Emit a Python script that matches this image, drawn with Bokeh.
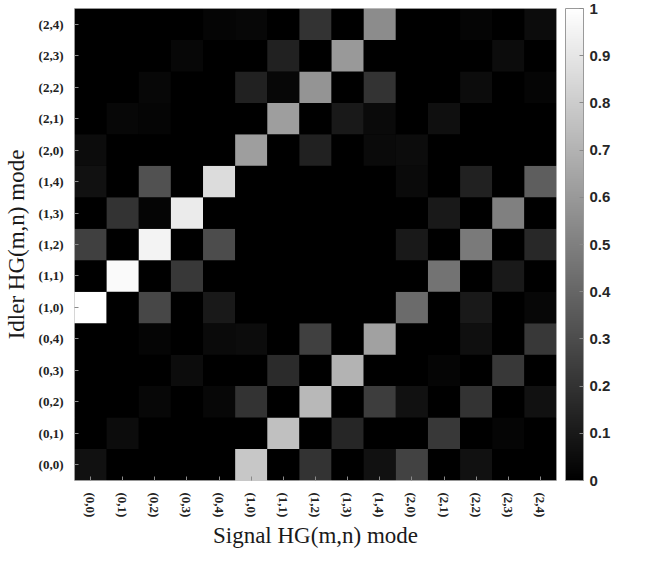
import math
from bokeh.plotting import figure
from bokeh.models import (FactorRange, LinearColorMapper, ColorBar, FixedTicker,
                          CustomJSTickFormatter, ColumnDataSource)
from bokeh.embed import file_html
from bokeh.resources import INLINE

# ---------------- data ----------------
modes = ["(0,0)", "(0,1)", "(0,2)", "(0,3)", "(0,4)",
         "(1,0)", "(1,1)", "(1,2)", "(1,3)", "(1,4)",
         "(2,0)", "(2,1)", "(2,2)", "(2,3)", "(2,4)"]

# one list per idler mode; entries follow the signal modes in the order above
idler_0_0 = [0.07, 0, 0, 0, 0, 0.78, 0, 0.20, 0, 0.07, 0.26, 0, 0.07, 0, 0]
idler_0_1 = [0, 0.05, 0, 0, 0, 0, 0.75, 0, 0.15, 0, 0, 0.22, 0, 0.02, 0]
idler_0_2 = [0, 0, 0.03, 0, 0.03, 0.20, 0, 0.72, 0, 0.24, 0.07, 0, 0.20, 0, 0.07]
idler_0_3 = [0, 0, 0, 0.05, 0, 0, 0.17, 0, 0.70, 0, 0, 0.02, 0, 0.22, 0]
idler_0_4 = [0, 0, 0.02, 0, 0.04, 0.05, 0, 0.25, 0, 0.63, 0, 0, 0.06, 0, 0.22]
idler_1_0 = [1.00, 0, 0.28, 0, 0.10, 0, 0, 0, 0, 0, 0.42, 0, 0.10, 0, 0.03]
idler_1_1 = [0, 0.98, 0, 0.22, 0, 0, 0, 0, 0, 0, 0, 0.45, 0, 0.10, 0]
idler_1_2 = [0.25, 0, 0.95, 0, 0.30, 0, 0, 0, 0, 0, 0.10, 0, 0.48, 0, 0.16]
idler_1_3 = [0, 0.20, 0.02, 0.92, 0, 0, 0, 0, 0, 0, 0, 0.10, 0, 0.50, 0]
idler_1_4 = [0.07, 0, 0.32, 0, 0.86, 0, 0, 0, 0, 0, 0.04, 0, 0.13, 0, 0.37]
idler_2_0 = [0.05, 0, 0, 0, 0, 0.62, 0, 0.13, 0, 0.04, 0.05, 0, 0, 0, 0]
idler_2_1 = [0, 0.03, 0.02, 0, 0, 0, 0.62, 0, 0.10, 0.04, 0, 0.06, 0, 0, 0]
idler_2_2 = [0, 0, 0.03, 0, 0, 0.13, 0.03, 0.58, 0, 0.20, 0, 0, 0.05, 0, 0.02]
idler_2_3 = [0, 0, 0, 0.03, 0, 0, 0.13, 0, 0.60, 0, 0, 0, 0, 0.05, 0]
idler_2_4 = [0, 0, 0, 0, 0.02, 0.03, 0, 0.20, 0, 0.55, 0, 0, 0.02, 0, 0.05]

cbar_ticks = [0, 0.1, 0.2, 0.3, 0.4, 0.5, 0.6, 0.7, 0.8, 0.9, 1.0]
x_title = "Signal HG(m,n) mode"
y_title = "Idler HG(m,n) mode"

rows = [idler_0_0, idler_0_1, idler_0_2, idler_0_3, idler_0_4,
        idler_1_0, idler_1_1, idler_1_2, idler_1_3, idler_1_4,
        idler_2_0, idler_2_1, idler_2_2, idler_2_3, idler_2_4]

sig, idl, val = [], [], []
for i, row in enumerate(rows):
    for j, v in enumerate(row):
        sig.append(modes[j])
        idl.append(modes[i])
        val.append(v)
src = ColumnDataSource(dict(sig=sig, idl=idl, val=val))

# ---------------- figure ----------------
grays = ["#%02x%02x%02x" % (k, k, k) for k in range(256)]
mapper = LinearColorMapper(palette=grays, low=0, high=1)

FW, FH = 482, 472

p = figure(x_range=FactorRange(factors=modes), y_range=FactorRange(factors=modes),
           frame_width=FW, frame_height=FH,
           min_border_left=73, min_border_right=80, min_border_top=8, min_border_bottom=65,
           output_backend="svg", toolbar_location=None,
           background_fill_color="black", border_fill_color="white")
p.outline_line_color = "#c8c8c8"
p.grid.visible = False

p.rect(x="sig", y="idl", width=1, height=1, source=src,
       fill_color={"field": "val", "transform": mapper}, line_color=None)

for ax in (p.xaxis[0], p.yaxis[0]):
    ax.axis_line_color = None
    ax.major_tick_in = 4
    ax.major_tick_out = 0
    ax.major_tick_line_color = "#8a8a8a"
    ax.major_label_text_font = "Liberation Serif"
    ax.major_label_text_font_style = "bold"
    ax.major_label_text_font_size = "13px"
    ax.major_label_text_color = "#222222"
    ax.axis_label_text_font = "Liberation Serif"
    ax.axis_label_text_font_style = "normal"
    ax.axis_label_text_font_size = "23px"
    ax.axis_label_text_color = "#1a1a1a"

p.xaxis.axis_label = x_title
p.yaxis.axis_label = y_title
p.yaxis.major_label_standoff = 11
p.yaxis.axis_label_standoff = 7
p.xaxis.major_label_standoff = 12
p.xaxis.axis_label_standoff = 3
p.xaxis.major_label_orientation = -math.pi / 2

cb = ColorBar(color_mapper=mapper, location=(491, 0), width=18, height=FH,
              margin=0, padding=0,
              ticker=FixedTicker(ticks=cbar_ticks),
              formatter=CustomJSTickFormatter(code="return String(Math.round(tick*10)/10)"),
              major_label_text_font="Liberation Sans", major_label_text_font_style="bold",
              major_label_text_font_size="15px", major_label_text_color="#262626",
              label_standoff=6, major_tick_in=4, major_tick_out=0,
              major_tick_line_color="#8a8a8a", bar_line_color="#9a9a9a",
              border_line_color=None, background_fill_alpha=0)
p.add_layout(cb)

open("out.html", "w").write(file_html(p, INLINE))
